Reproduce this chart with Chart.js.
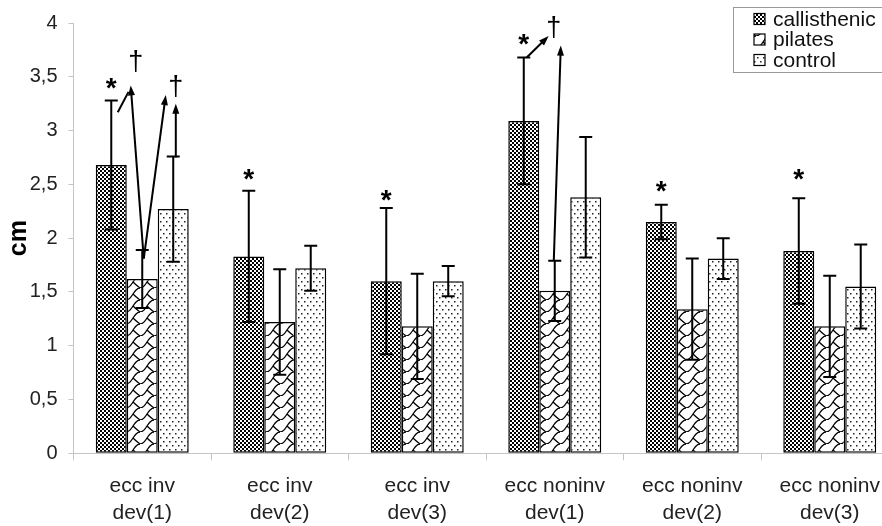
<!DOCTYPE html>
<html lang="en">
<head>
<meta charset="UTF-8">
<title>ecc inv / ecc noninv</title>
<script src="https://cdn.jsdelivr.net/npm/chart.js@4.4.0/dist/chart.umd.min.js"></script>
<style>
    body { margin: 0; background: #fff; overflow: hidden; }
    #wrap { width: 912px; height: 526px; }
</style>
</head>
<body>
<div id="wrap"><canvas id="myChart" width="912" height="526"></canvas></div>

<script>
// data
var categories = [['ecc inv', 'dev(1)'], ['ecc inv', 'dev(2)'], ['ecc inv', 'dev(3)'],
                  ['ecc noninv', 'dev(1)'], ['ecc noninv', 'dev(2)'], ['ecc noninv', 'dev(3)']];
var seriesNames = ['callisthenic', 'pilates', 'control'];
var callisthenic = [2.68, 1.83, 1.60, 3.09, 2.15, 1.88];
var callisthenicSD = [0.60, 0.61, 0.68, 0.59, 0.16, 0.49];
var pilates = [1.62, 1.22, 1.18, 1.51, 1.34, 1.18];
var pilatesSD = [0.27, 0.49, 0.49, 0.28, 0.47, 0.47];
var control = [2.27, 1.72, 1.60, 2.38, 1.81, 1.55];
var controlSD = [0.49, 0.21, 0.14, 0.56, 0.19, 0.39];
var yTicks = [0, 0.5, 1, 1.5, 2, 2.5, 3, 3.5, 4];

// significance marks: category index, offset in category widths, value
var stars = [[0, 3.45], [1, 2.61], [2, 2.41], [3, 3.86], [4, 2.49], [5, 2.61]];
var daggers = [[0, -0.047, 3.63], [0, 0.244, 3.40], [3, -0.007, 3.95]];
// arrows: [cat, dx1, y1, dx2, y2, head]
var arrows = [
    [0, 0.011, 1.81, -0.084, 3.42, true],
    [0, -0.178, 3.17, -0.10, 3.36, false],
    [0, 0.011, 1.81, 0.171, 3.33, true],
    [0, 0.244, 2.75, 0.244, 3.25, true],
    [3, -0.204, 3.68, -0.044, 3.88, true],
    [3, -0.007, 1.79, 0.044, 3.79, true]
];

var FONT = "'Liberation Sans', Arial, sans-serif";
Chart.defaults.font.family = FONT;
Chart.defaults.color = '#222';

function makePattern(kind) {
    var c = document.createElement('canvas');
    var g;
    if (kind == 'check') {
        c.width = 4; c.height = 4;
        g = c.getContext('2d');
        g.fillStyle = '#000'; g.fillRect(0, 0, 4, 4);
        g.fillStyle = '#fff';
        g.fillRect(0, 0, 2, 2);
        g.fillRect(2, 2, 2, 2);
    } else if (kind == 'wave') {
        c.width = 14; c.height = 12;
        g = c.getContext('2d');
        g.fillStyle = '#fff'; g.fillRect(0, 0, 14, 12);
        g.strokeStyle = '#000'; g.lineWidth = 1.3;
        g.beginPath();
        g.moveTo(0, 12);
        g.bezierCurveTo(7, 12, 7, 0, 14, 0);
        g.moveTo(7, 6);
        g.quadraticCurveTo(10, 9, 14, 12);
        g.stroke();
    } else {
        c.width = 6; c.height = 8;
        g = c.getContext('2d');
        g.fillStyle = '#fff'; g.fillRect(0, 0, 6, 8);
        g.fillStyle = '#222';
        g.fillRect(1, 1, 1.5, 1.5);
        g.fillRect(4, 5, 1.5, 1.5);
    }
    return g.createPattern(c, 'repeat');
}

var fills = [makePattern('check'), makePattern('wave'), makePattern('dots')];

function catX(chart, i, dx) {
    var x = chart.scales.x;
    var w = x.getPixelForValue(1) - x.getPixelForValue(0);
    return x.getPixelForValue(i) + dx * w;
}

function arrowLine(ctx, x1, y1, x2, y2, head) {
    var a = Math.atan2(y2 - y1, x2 - x1);
    var len = head ? 10 : 0;
    ctx.beginPath();
    ctx.moveTo(x1, y1);
    ctx.lineTo(x2 - Math.cos(a) * len * 0.8, y2 - Math.sin(a) * len * 0.8);
    ctx.stroke();
    if (head) {
        ctx.beginPath();
        ctx.moveTo(x2, y2);
        ctx.lineTo(x2 - len * Math.cos(a) + 3.5 * Math.sin(a), y2 - len * Math.sin(a) - 3.5 * Math.cos(a));
        ctx.lineTo(x2 - len * Math.cos(a) - 3.5 * Math.sin(a), y2 - len * Math.sin(a) + 3.5 * Math.cos(a));
        ctx.closePath();
        ctx.fill();
    }
}

var extras = {
    id: 'extras',
    afterDatasetsDraw: function(chart) {
        var ctx = chart.ctx, y = chart.scales.y;
        ctx.save();
        ctx.strokeStyle = '#000';
        ctx.fillStyle = '#000';
        ctx.lineWidth = 2;
        // error bars
        chart.data.datasets.forEach(function(ds, d) {
            chart.getDatasetMeta(d).data.forEach(function(bar, i) {
                var top = y.getPixelForValue(ds.data[i] + ds.sd[i]);
                var bot = y.getPixelForValue(ds.data[i] - ds.sd[i]);
                ctx.beginPath();
                ctx.moveTo(bar.x, top); ctx.lineTo(bar.x, bot);
                ctx.moveTo(bar.x - 6.5, top); ctx.lineTo(bar.x + 6.5, top);
                ctx.moveTo(bar.x - 6.5, bot); ctx.lineTo(bar.x + 6.5, bot);
                ctx.stroke();
            });
        });
        // arrows
        arrows.forEach(function(a) {
            arrowLine(ctx, catX(chart, a[0], a[1]), y.getPixelForValue(a[2]),
                      catX(chart, a[0], a[3]), y.getPixelForValue(a[4]), a[5]);
        });
        // stars above callisthenic bars
        ctx.textAlign = 'center';
        ctx.textBaseline = 'alphabetic';
        ctx.font = 'bold 28px ' + FONT;
        var meta0 = chart.getDatasetMeta(0);
        stars.forEach(function(s) {
            ctx.fillText('*', meta0.data[s[0]].x, y.getPixelForValue(s[1]) + 15);
        });
        ctx.font = '27px ' + FONT;
        ctx.textBaseline = 'middle';
        daggers.forEach(function(t) {
            ctx.fillText('\u2020', catX(chart, t[0], t[1]), y.getPixelForValue(t[2]));
        });
        ctx.restore();
    },
    afterDraw: function(chart) {
        var ctx = chart.ctx;
        ctx.save();
        ctx.fillStyle = '#fff';
        ctx.fillRect(733.5, 7.5, 200, 65);
        ctx.strokeStyle = '#999';
        ctx.lineWidth = 1;
        ctx.strokeRect(733.5, 7.5, 200, 65);
        ctx.font = '21px ' + FONT;
        ctx.textBaseline = 'middle';
        ctx.textAlign = 'left';
        chart.data.datasets.forEach(function(ds, d) {
            var cy = 19 + d * 20.5;
            ctx.fillStyle = ds.backgroundColor;
            ctx.fillRect(754, cy - 5.5, 11, 11);
            ctx.strokeStyle = '#000';
            ctx.lineWidth = 1.2;
            ctx.strokeRect(754, cy - 5.5, 11, 11);
            ctx.fillStyle = '#111';
            ctx.fillText(ds.label, 773, cy + 1);
        });
        ctx.restore();
    }
};

var ctx = document.getElementById('myChart').getContext('2d');
var myChart = new Chart(ctx, {
    type: 'bar',
    data: {
        labels: categories,
        datasets: [
            { label: seriesNames[0], data: callisthenic, sd: callisthenicSD, backgroundColor: fills[0] },
            { label: seriesNames[1], data: pilates, sd: pilatesSD, backgroundColor: fills[1] },
            { label: seriesNames[2], data: control, sd: controlSD, backgroundColor: fills[2] }
        ]
    },
    options: {
        responsive: false,
        animation: false,
        layout: { padding: { top: 23, right: 13.5, left: 0, bottom: 0 } },
        datasets: {
            bar: {
                borderColor: '#000',
                borderWidth: 1.5,
                borderSkipped: false,
                categoryPercentage: 0.676,
                barPercentage: 1
            }
        },
        plugins: {
            legend: { display: false },
            tooltip: { enabled: false }
        },
        scales: {
            x: {
                offset: true,
                grid: { drawOnChartArea: false, offset: true, tickLength: 7, color: '#c4c4c4' },
                border: { color: '#c4c4c4' },
                ticks: { font: { size: 21, lineHeight: 1.29 }, color: '#222', padding: 12, maxRotation: 0 },
                afterFit: function(s) { s.height = 72.7; }
            },
            y: {
                min: 0,
                max: 4,
                afterBuildTicks: function(s) { s.ticks = yTicks.map(function(v) { return { value: v }; }); },
                grid: { drawOnChartArea: false, tickLength: 5, color: '#c4c4c4' },
                border: { color: '#c4c4c4' },
                ticks: {
                    font: { size: 20 },
                    color: '#222',
                    padding: 11,
                    callback: function(v) { return String(v).replace('.', ','); }
                },
                title: { display: true, text: 'cm', color: '#000', font: { size: 25, weight: 'bold' } },
                afterFit: function(s) { s.width = 73.5; }
            }
        }
    },
    plugins: [extras]
});
</script>
</body>
</html>
